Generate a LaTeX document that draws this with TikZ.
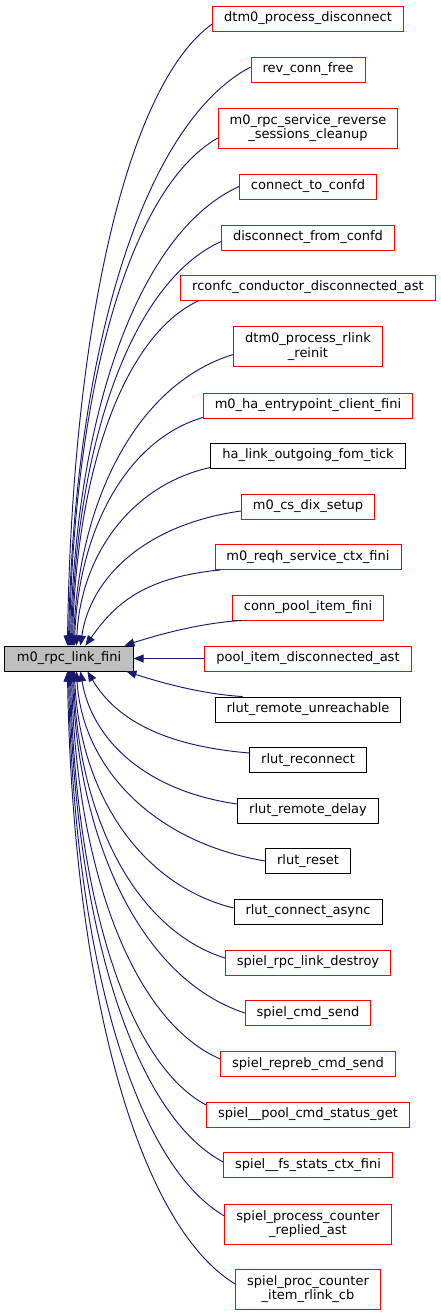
\documentclass[tikz,border=0pt]{standalone}
\usepackage{fontspec}
\setmainfont{DejaVu Sans}
\usetikzlibrary{arrows.meta,calc}
\definecolor{edgeblue}{HTML}{191970}
\definecolor{mainfill}{HTML}{BFBFBF}
\tikzset{
  fn/.style={draw=red, line width=0.9pt, fill=white, inner xsep=11.5pt, inner ysep=4pt,
    minimum height=25pt, align=center, font=\fontsize{13}{14.5}\selectfont},
  fnb/.style={fn, draw=black},
  fn2/.style={fn, minimum height=40pt},
  mainnode/.style={fn, draw=black, fill=mainfill, inner xsep=12pt},
  edge/.style={draw=edgeblue, line width=0.95pt, -{Triangle[length=10pt,width=8pt]}}
}
% \connx{a}{b}{c}{d}{start}{tip}
\newcommand\connx[6]{%
  \coordinate (ca) at ($#5!#1!#6$);
  \coordinate (cb) at ($#5!#2!#6$);
  \coordinate (cc) at ($#6!#3!#5$);
  \coordinate (cd) at ($#5!#4!#6$);
  \draw[edge] #5 .. controls (ca |- cb) and (cc |- cd) .. #6;}
\newcommand\conn[2]{\connx{0.6}{0.1}{0.03}{0.5}{#1}{#2}}
\begin{document}
\begin{tikzpicture}[x=1pt,y=-1pt]
\useasboundingbox (0,0) rectangle (440,1315);
\node[mainnode] (main) at (69,658.5) {m0\_rpc\_link\_fini};
\node[fn]  (n1)  at (308,18.5)  {dtm0\_process\_disconnect};
\node[fn]  (n2)  at (308,69.5)  {rev\_conn\_free};
\node[fn2] (n3)  at (308,128)   {m0\_rpc\_service\_reverse\\\_sessions\_cleanup};
\node[fn]  (n4)  at (308,186.5) {connect\_to\_confd};
\node[fn]  (n5)  at (308,237.5) {disconnect\_from\_confd};
\node[fn]  (n6)  at (308,287.5) {rconfc\_conductor\_disconnected\_ast};
\node[fn2] (n7)  at (308,346.5) {dtm0\_process\_rlink\\\_reinit};
\node[fn]  (n8)  at (308,405.5) {m0\_ha\_entrypoint\_client\_fini};
\node[fnb] (n9)  at (308,455.5) {ha\_link\_outgoing\_fom\_tick};
\node[fn]  (n10) at (308,506.5) {m0\_cs\_dix\_setup};
\node[fn]  (n11) at (308,557)   {m0\_reqh\_service\_ctx\_fini};
\node[fn]  (n12) at (308,607.5) {conn\_pool\_item\_fini};
\node[fn]  (n13) at (308,658.5) {pool\_item\_disconnected\_ast};
\node[fnb] (n14) at (308,709.5) {rlut\_remote\_unreachable};
\node[fnb] (n15) at (308,760)   {rlut\_reconnect};
\node[fnb] (n16) at (308,810.5) {rlut\_remote\_delay};
\node[fnb] (n17) at (308,861)   {rlut\_reset};
\node[fnb] (n18) at (308,911.5) {rlut\_connect\_async};
\node[fn]  (n19) at (308,962.5) {spiel\_rpc\_link\_destroy};
\node[fn]  (n20) at (308,1013)  {spiel\_cmd\_send};
\node[fn]  (n21) at (308,1064)  {spiel\_repreb\_cmd\_send};
\node[fn]  (n22) at (308,1114.5){spiel\_\_pool\_cmd\_status\_get};
\node[fn]  (n23) at (308,1165)  {spiel\_\_fs\_stats\_ctx\_fini};
\node[fn2] (n24) at (308,1224)  {spiel\_process\_counter\\\_replied\_ast};
\node[fn2] (n25) at (308,1289)  {spiel\_proc\_counter\\\_item\_rlink\_cb};
% upper connectors
\conn{([yshift=-5.5pt]n1.west)}{([xshift=63pt]main.north west)}
\conn{([yshift=2.5pt]n2.west)}{([xshift=64pt]main.north west)}
\conn{([yshift=-10pt]n3.west)}{([xshift=65pt]main.north west)}
\conn{(n4.west)}{([xshift=66pt]main.north west)}
\conn{([yshift=-4pt]n5.west)}{([xshift=67pt]main.north west)}
\conn{([xshift=19pt]n6.south west)}{([xshift=68pt]main.north west)}
\conn{([yshift=-8pt]n7.west)}{([xshift=69pt]main.north west)}
\conn{([yshift=1pt]n8.south west)}{([xshift=70pt]main.north west)}
\conn{([yshift=1pt]n9.south west)}{([xshift=72pt]main.north west)}
\connx{0.6}{0.1}{0.06}{0.5}{([yshift=-4.5pt]n10.west)}{([xshift=76pt]main.north west)}
\connx{0.6}{0.1}{0.2}{0.5}{([xshift=6pt]n11.south west)}{([xshift=81pt]main.north west)}
\connx{0.35}{0.1}{0.3}{0.55}{([xshift=10pt]n12.south west)}{([xshift=120pt]main.north west)}
\draw[edge] (n13.west) -- (main.east);
% lower connectors
\connx{0.35}{0.1}{0.3}{0.55}{([xshift=28pt]n14.north west)}{([xshift=122pt]main.south west)}
\connx{0.6}{0.1}{0.15}{0.5}{([yshift=7pt]n15.west)}{([xshift=83pt]main.south west)}
\connx{0.6}{0.1}{0.07}{0.5}{([yshift=6.5pt]n16.west)}{([xshift=76pt]main.south west)}
\conn{(n17.west)}{([xshift=72pt]main.south west)}
\conn{([yshift=3.5pt]n18.west)}{([xshift=70pt]main.south west)}
\conn{([yshift=4.5pt]n19.west)}{([xshift=69pt]main.south west)}
\conn{(n20.west)}{([xshift=68pt]main.south west)}
\conn{([yshift=5pt]n21.west)}{([xshift=67pt]main.south west)}
\conn{([yshift=9.5pt]n22.west)}{([xshift=66pt]main.south west)}
\conn{([yshift=3pt]n23.west)}{([xshift=65pt]main.south west)}
\conn{([yshift=8pt]n24.west)}{([xshift=64pt]main.south west)}
\conn{([yshift=5pt]n25.west)}{([xshift=63pt]main.south west)}
\end{tikzpicture}
\end{document}
